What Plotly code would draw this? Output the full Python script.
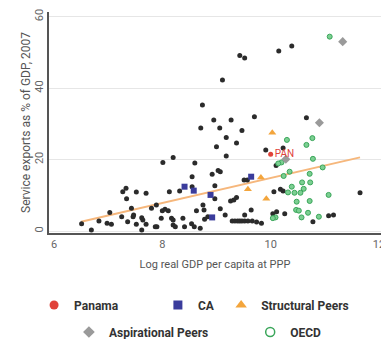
import plotly.graph_objects as go

# ---- data ----
other_x = [9.43, 9.52, 9.11, 10.15, 10.39, 8.74, 8.95, 9.27, 9.70, 10.66,
           8.71, 9.06, 9.47, 9.18, 9.00, 9.37, 9.18, 9.91, 10.23, 10.10,
           8.01, 8.20, 8.60, 8.55, 8.92, 9.03, 9.07, 8.13, 8.32, 8.55, 8.97,
           9.51, 9.57, 10.06, 10.18, 10.23, 11.65,
           7.27, 7.33, 7.34, 7.52, 7.70, 7.03, 7.43, 7.25, 6.83, 6.51, 6.69,
           6.98, 7.06, 7.36, 7.46, 7.47, 7.62, 7.64, 7.52, 7.70, 7.62, 7.80,
           7.89, 7.90,
           8.00, 8.05, 8.11, 8.63, 8.75, 8.77, 8.97, 9.26, 9.32, 9.37, 9.07,
           8.84, 8.78, 8.17, 8.20, 7.98, 7.87, 8.20, 8.24, 8.41, 8.38, 8.54,
           8.59, 8.70, 9.16, 9.29, 9.34, 9.39, 9.43, 9.47, 9.52, 9.58, 9.66,
           9.52, 9.64, 9.83, 9.74,
           10.11, 10.04, 10.26, 11.07, 11.16, 10.78]
other_y = [49.1, 48.4, 42.3, 50.4, 51.8, 35.3, 31.1, 31.1, 32.0, 31.7,
           28.8, 28.8, 28.1, 26.2, 23.6, 24.6, 21.0, 22.7, 23.2, 18.3,
           19.2, 20.6, 19.0, 15.2, 15.9, 16.9, 16.6, 11.0, 11.2, 12.4, 12.7,
           14.3, 14.3, 11.0, 11.7, 11.2, 10.7,
           11.0, 12.0, 9.0, 10.9, 10.6, 5.2, 6.4, 4.0, 2.8, 2.0, 0.3,
           2.2, 1.9, 2.6, 4.0, 4.5, 3.7, 3.1, 1.9, 1.9, 0.3, 6.4,
           7.3, 1.2,
           5.7, 6.1, 5.7, 5.7, 7.3, 5.9, 9.0, 8.4, 8.7, 9.4, 6.2,
           4.0, 3.3, 3.6, 3.1, 3.6, 1.2, 1.7, 1.2, 1.2, 3.6, 2.0,
           1.2, 0.8, 4.5, 2.8, 2.8, 2.8, 2.8, 2.8, 2.8, 2.8, 2.8,
           4.5, 5.9, 2.2, 2.5,
           5.4, 4.8, 4.8, 4.3, 4.5, 2.6]

ca_x = [8.41, 8.58, 8.89, 9.64, 8.92]
ca_y = [12.4, 11.3, 10.1, 15.2, 3.8]

struct_x = [10.03, 9.82, 9.58, 9.92]
struct_y = [27.5, 15.0, 11.7, 9.0]

asp_x = [11.33, 10.90, 10.28]
asp_y = [53.0, 30.3, 20.1]

oecd_x = [11.09, 10.30, 10.77, 10.66, 10.78, 10.20, 10.14, 10.96, 10.35, 10.24,
          10.72, 10.58, 10.73, 10.39, 10.61, 10.32, 10.44, 10.55, 11.07, 10.48,
          10.72, 10.47, 10.52, 10.69, 10.09, 10.04, 10.57, 10.89]
oecd_y = [54.4, 25.5, 26.0, 24.1, 20.2, 19.2, 18.9, 17.8, 16.6, 15.4,
          16.0, 13.6, 13.6, 12.4, 11.8, 10.8, 10.7, 10.7, 10.1, 8.2,
          8.4, 5.9, 5.7, 5.1, 3.8, 3.6, 3.8, 4.0]

pan_x = [10.0]
pan_y = [21.5]
pan_label = ["PAN"]

trend_x = [6.5, 11.65]
trend_y = [2.6, 20.6]

x_ticks = [6, 8, 10, 12]
y_ticks = [0, 20, 40, 60]

# ---- styles ----
C_OTHER = "#2b2b2b"
C_CA = "#3a3c9c"
C_STRUCT = "#f3a53c"
C_ASP = "#9a9a9a"
C_OECD = "#3aa65a"
C_OECD_FILL = "#7ccf92"
C_PAN = "#e0433a"
C_TREND = "#f6b77c"

fig = go.Figure()

fig.add_trace(go.Scatter(x=trend_x, y=trend_y, mode="lines",
                         line=dict(color=C_TREND, width=2), showlegend=False, hoverinfo="skip"))
fig.add_trace(go.Scatter(x=other_x, y=other_y, mode="markers", name="Other",
                         marker=dict(color=C_OTHER, size=5), showlegend=False))
fig.add_trace(go.Scatter(x=oecd_x, y=oecd_y, mode="markers", name="OECD",
                         marker=dict(color=C_OECD_FILL, size=5, symbol="circle", line=dict(width=1, color=C_OECD)),
                         showlegend=False))
fig.add_trace(go.Scatter(x=ca_x, y=ca_y, mode="markers", name="CA",
                         marker=dict(color=C_CA, size=6, symbol="square"), showlegend=False))
fig.add_trace(go.Scatter(x=struct_x, y=struct_y, mode="markers", name="Structural Peers",
                         marker=dict(color=C_STRUCT, size=7, symbol="triangle-up"), showlegend=False))
fig.add_trace(go.Scatter(x=asp_x, y=asp_y, mode="markers", name="Aspirational Peers",
                         marker=dict(color=C_ASP, size=7, symbol="diamond"), showlegend=False))
fig.add_trace(go.Scatter(x=pan_x, y=pan_y, mode="markers+text", name="Panama",
                         text=pan_label, textposition="middle right",
                         textfont=dict(color=C_PAN, size=10, family="Roboto"),
                         marker=dict(color=C_PAN, size=5), showlegend=False))

# legend-only entries
leg_items = [
    ("Panama", dict(color=C_PAN, size=9, symbol="circle"), "legend", -0.045, -0.326),
    ("CA", dict(color=C_CA, size=9, symbol="square"), "legend2", 0.328, -0.326),
    ("Structural Peers", dict(color=C_STRUCT, size=10, symbol="triangle-up"), "legend3", 0.5185, -0.326),
    ("Aspirational Peers", dict(color=C_ASP, size=9, symbol="diamond"), "legend4", 0.060, -0.448),
    ("OECD", dict(color=C_OECD, size=9, symbol="circle-open", line=dict(width=1.5, color=C_OECD)), "legend5", 0.606, -0.448),
]
legend_layouts = {}
for name, mk, lg, lx, ly in leg_items:
    fig.add_trace(go.Scatter(x=[None], y=[None], mode="markers", name=name, marker=mk,
                             showlegend=True, legend=lg))
    legend_layouts[lg] = dict(x=lx, y=ly, xanchor="left", yanchor="middle", orientation="h",
                              bgcolor="rgba(0,0,0,0)",
                              font=dict(family="Roboto", size=12, color="#333333", weight="bold"))

fig.update_layout(
    width=381, height=339,
    margin=dict(l=49, r=0, t=12, b=106, autoexpand=False),
    paper_bgcolor="white", plot_bgcolor="white",
    font=dict(family="Roboto", color="#555555"),
    **legend_layouts,
)
fig.update_xaxes(range=[5.908, 12.037], tickvals=x_ticks, showgrid=False, zeroline=False,
                 showline=True, linecolor="#555555", linewidth=1.5, automargin=False,
                 ticks="", tickfont=dict(size=11, color="#666666"), ticklabeloverflow="allow",
                 title=dict(text="Log real GDP per capita at PPP", font=dict(size=11, color="#555555"), standoff=10))
fig.update_yaxes(range=[-0.56, 61.3], tickvals=y_ticks, showgrid=True, gridcolor="#e6e6e6", gridwidth=1,
                 zeroline=False, showline=True, linecolor="#555555", linewidth=1.5, automargin=False,
                 ticks="", tickangle=-90, tickfont=dict(size=11, color="#666666"),
                 title=dict(text="Service exports as % of GDP, 2007", font=dict(size=12, color="#555555"), standoff=0))

fig.write_html("out.html", config={"displayModeBar": False},
               post_script="document.body.style.margin='0';document.body.style.overflow='hidden';")
